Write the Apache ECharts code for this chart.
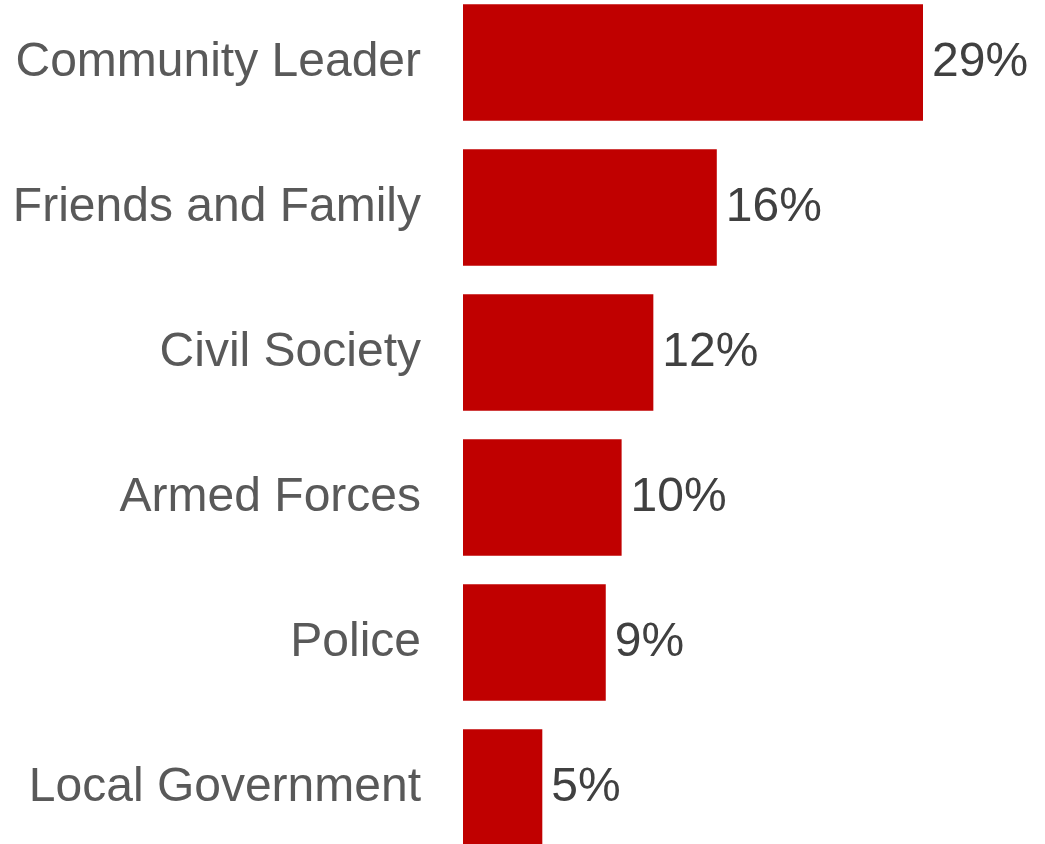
<!DOCTYPE html>
<html>
<head>
<meta charset="utf-8">
<script src="https://cdn.jsdelivr.net/npm/echarts@6/dist/echarts.min.js"></script>
<style>
  html, body { margin: 0; padding: 0; background: #ffffff; }
  #chart { width: 1045px; height: 844px; }
</style>
</head>
<body>
<div id="chart"></div>
<script>
// Categories listed bottom-to-top (category axis on y runs upward)
const categories = ['Local Government', 'Police', 'Armed Forces', 'Civil Society', 'Friends and Family', 'Community Leader'];
const shares = [5, 9, 10, 12, 16, 29];

const chart = echarts.init(document.getElementById('chart'), null, { renderer: 'canvas' });

chart.setOption({
  animation: false,
  backgroundColor: '#ffffff',
  grid: {
    left: 463, width: 460, top: -10, height: 870,
    containLabel: false,
    outerBoundsMode: 'none'
  },
  xAxis: {
    type: 'value',
    min: 0,
    max: 29,
    show: false
  },
  yAxis: {
    type: 'category',
    data: categories,
    axisLine: { show: false },
    axisTick: { show: false },
    splitLine: { show: false },
    axisLabel: {
      margin: 42,
      color: '#595959',
      fontFamily: 'Liberation Sans, Arial, sans-serif',
      fontSize: 48
    }
  },
  series: [{
    type: 'bar',
    data: shares,
    barCategoryGap: '19.5%',
    itemStyle: { color: '#C00000' },
    label: {
      show: true,
      position: 'right',
      distance: 9,
      formatter: p => p.value + '%',
      color: '#404040',
      fontFamily: 'Liberation Sans, Arial, sans-serif',
      fontSize: 48
    }
  }]
});
</script>
</body>
</html>
